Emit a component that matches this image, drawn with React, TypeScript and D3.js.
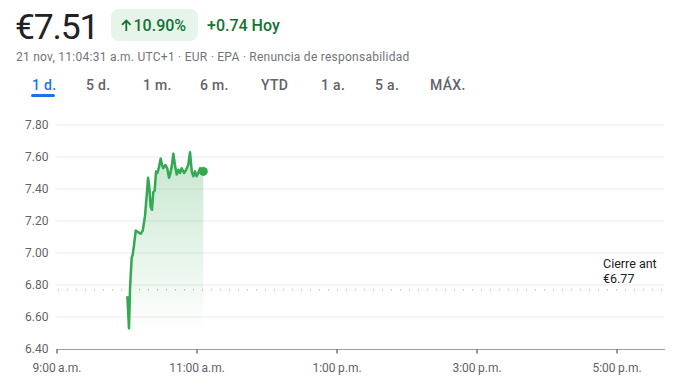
import React from "react";
import * as d3 from "d3";

// Price data: minutes after 9:00 a.m. and price in EUR
const times: number[] = [60.3, 61.7, 62.6, 64.0, 64.9, 66.0, 67.5, 69.7, 71.7, 73.5, 75.4, 76.9, 78.0, 78.9, 80.3, 81.4, 82.5, 83.7, 84.9, 86.0, 87.2, 88.9, 90.0, 91.1, 92.8, 94.5, 96.0, 96.9, 98.3, 99.7, 101.1, 102.6, 104.0, 105.4, 106.9, 108.9, 110.6, 112.5, 114.0, 115.5, 116.8, 118.3, 119.7, 121.1, 122.6, 124.0, 125.4];
const prices: number[] = [6.73, 6.53, 6.78, 6.97, 6.99, 7.05, 7.14, 7.13, 7.12, 7.14, 7.23, 7.36, 7.47, 7.43, 7.29, 7.27, 7.38, 7.39, 7.51, 7.50, 7.53, 7.59, 7.55, 7.53, 7.55, 7.53, 7.47, 7.49, 7.54, 7.62, 7.55, 7.49, 7.52, 7.50, 7.53, 7.50, 7.52, 7.55, 7.63, 7.51, 7.48, 7.51, 7.48, 7.50, 7.53, 7.52, 7.51];

const prevClose = 6.77;
const yTicks: number[] = [6.4, 6.6, 6.8, 7.0, 7.2, 7.4, 7.6, 7.8];
const xTickTimes: number[] = [0, 120, 240, 360, 480];
const xTickLabels: string[] = ["9:00\u2009a.m.", "11:00\u2009a.m.", "1:00\u2009p.m.", "3:00\u2009p.m.", "5:00\u2009p.m."];
const tabs: string[] = ["1 d.", "5 d.", "1 m.", "6 m.", "YTD", "1 a.", "5 a.", "MÁX."];
const tabX: number[] = [32, 86, 143, 200, 261, 321, 375, 430];

const FONT = "Roboto, Arial, sans-serif";

export default function App() {
  const W = 696, H = 390;
  const x = d3.scaleLinear().domain([0, 520]).range([57, 663.7]);
  const y = d3.scaleLinear().domain([6.4, 7.8]).range([349, 125]);
  const data = times.map((t, i) => ({ t, v: prices[i] }));
  const line = d3.line<{ t: number; v: number }>().x(d => x(d.t)).y(d => y(d.v));
  const area = d3.area<{ t: number; v: number }>().x(d => x(d.t)).y0(y(6.5)).y1(d => y(d.v));
  const last = data[data.length - 1];

  return (
    <svg width={W} height={H} style={{ position: "absolute", left: 0, top: 0, fontFamily: FONT }}>
      <defs>
        <linearGradient id="g" x1="0" y1="0" x2="0" y2="1">
          <stop offset="0%" stopColor="#34a853" stopOpacity={0.28} />
          <stop offset="100%" stopColor="#34a853" stopOpacity={0} />
        </linearGradient>
      </defs>
      <rect width={W} height={H} fill="#fff" />
      {/* header */}
      <text x={15} y={38.5} fontSize={35.5} letterSpacing={-1.2} fill="#202124">€7.51</text>
      <rect x={111} y={9} width={87} height={32} rx={8} fill="#e6f4ea" />
      <path d="M126.3,31 V20.5 M122,24.8 L126.3,20.5 L130.6,24.8" fill="none" stroke="#137333" strokeWidth={1.8} />
      <text x={133.5} y={31} fontSize={16} fontWeight={500} fill="#137333">10.90%</text>
      <text x={207} y={31} fontSize={16} fontWeight={500} fill="#137333">+0.74 Hoy</text>
      <text x={16} y={61} fontSize={12} letterSpacing={0.25} fill="#70757a">21 nov, 11:04:31 a.m. UTC+1 · EUR · EPA · Renuncia de responsabilidad</text>
      {tabs.map((t, i) => (
        <text key={t} x={tabX[i]} y={90} fontSize={14} fontWeight={500} letterSpacing={0.3} fill={i === 0 ? "#1a73e8" : "#5f6368"}>{t}</text>
      ))}
      <rect x={31} y={94} width={24} height={3} rx={1.5} fill="#1a73e8" />

      {/* grid */}
      {yTicks.slice(1).map(v => (
        <line key={v} x1={57} x2={664} y1={y(v)} y2={y(v)} stroke="#ebebeb" strokeWidth={1} />
      ))}
      {yTicks.map(v => (
        <text key={"l" + v} x={48.5} y={y(v)} dy="0.35em" textAnchor="end" fontSize={12} fill="#5f6368">{v.toFixed(2)}</text>
      ))}
      {/* previous close */}
      <line x1={58} x2={664} y1={y(prevClose)} y2={y(prevClose)} stroke="#9aa0a6" strokeWidth={1} strokeDasharray="1 8" />
      <text x={603} y={267.5} fontSize={12.5} fill="#202124">Cierre ant</text>
      <text x={603} y={283} fontSize={12.5} fill="#202124">€{prevClose.toFixed(2)}</text>

      {/* x axis */}
      <line x1={57} x2={665} y1={349.5} y2={349.5} stroke="#9aa0a6" strokeWidth={1} />
      {xTickTimes.map((t, i) => (
        <g key={t}>
          <line x1={x(t)} x2={x(t)} y1={349} y2={353.5} stroke="#70757a" strokeWidth={1.5} />
          <text x={x(t)} y={372} textAnchor="middle" fontSize={12} fill="#5f6368">{xTickLabels[i]}</text>
        </g>
      ))}

      {/* series */}
      <path d={area(data) || ""} fill="url(#g)" />
      <path d={line(data) || ""} fill="none" stroke="#34a853" strokeWidth={2.5} strokeLinejoin="round" />
      <circle cx={x(last.t)} cy={y(last.v)} r={4.5} fill="#34a853" />
    </svg>
  );
}
